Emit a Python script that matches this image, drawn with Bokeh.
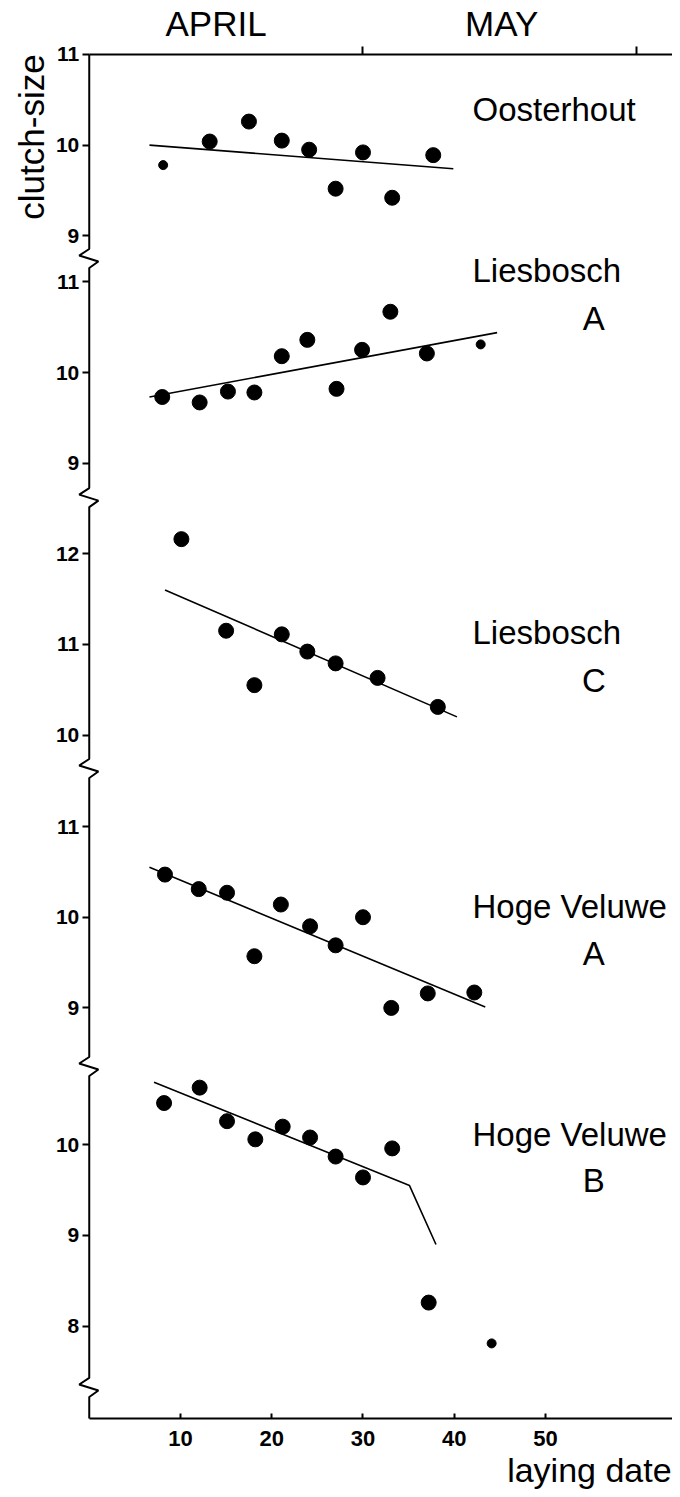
import math
from bokeh.plotting import figure
from bokeh.models import Range1d, FixedTicker, Label, LinearAxis
from bokeh.embed import file_html
from bokeh.resources import INLINE

# ---------------- data (laying date in days from 1 April, clutch-size) ----------------
oost_days = [13.2, 17.5, 21.1, 24.1, 27.0, 30.0, 33.2, 37.7]
oost_size = [10.04, 10.26, 10.05, 9.95, 9.52, 9.92, 9.42, 9.89]
oost_small_days = [8.1]
oost_small_size = [9.78]
oost_fit_days = [6.6, 39.9]
oost_fit_size = [10.00, 9.74]

liesA_days = [8.0, 12.1, 15.2, 18.1, 21.1, 23.9, 27.1, 29.9, 33.0, 37.0]
liesA_size = [9.73, 9.67, 9.79, 9.78, 10.18, 10.36, 9.82, 10.25, 10.67, 10.21]
liesA_small_days = [42.9]
liesA_small_size = [10.31]
liesA_fit_days = [6.6, 44.7]
liesA_fit_size = [9.73, 10.44]

liesC_days = [10.1, 15.0, 18.1, 21.1, 23.9, 27.0, 31.6, 38.2]
liesC_size = [12.16, 11.15, 10.55, 11.11, 10.92, 10.79, 10.63, 10.31]
liesC_small_days = []
liesC_small_size = []
liesC_fit_days = [8.3, 40.3]
liesC_fit_size = [11.60, 10.20]

hvA_days = [8.3, 12.0, 15.1, 18.1, 21.0, 24.2, 27.0, 30.0, 33.1, 37.1, 42.2]
hvA_size = [10.47, 10.31, 10.27, 9.57, 10.14, 9.90, 9.69, 10.00, 9.00, 9.16, 9.17]
hvA_small_days = []
hvA_small_size = []
hvA_fit_days = [6.6, 43.4]
hvA_fit_size = [10.55, 9.01]

hvB_days = [8.2, 12.1, 15.1, 18.2, 21.2, 24.2, 27.0, 30.0, 33.2, 37.2]
hvB_size = [10.46, 10.63, 10.26, 10.06, 10.20, 10.08, 9.87, 9.64, 9.96, 8.26]
hvB_small_days = [44.1]
hvB_small_size = [7.81]
hvB_fit_days = [7.1, 35.1, 38.0]
hvB_fit_size = [10.69, 9.55, 8.90]

panel_names = ["Oosterhout", "Liesbosch", "Liesbosch", "Hoge Veluwe", "Hoge Veluwe"]
panel_letters = ["", "A", "C", "A", "B"]
panel_yticks = [[9, 10, 11], [9, 10, 11], [10, 11, 12], [9, 10, 11], [8, 9, 10]]
x_ticks = [10, 20, 30, 40, 50]
month_ticks = [30, 60]
month_names = ["APRIL", "MAY"]
month_centres = [13.9, 45.2]

# ---------------- layout constants ----------------
FONT = "Liberation Sans"
Y_TOP = 15.04                                       # top axis (11 of the first panel)
offsets = [4.04, 1.533, -2.464, -4.473, -6.982]     # vertical stacking of the panels
breaks = [12.79, 10.154, 7.167, 3.881, 0.342]       # axis breaks (stacked units)
name_mid = [10.39, 11.13, 11.13, 10.12, 10.11]      # label positions (panel units)
letter_mid = [None, 10.60, 10.60, 9.60, 9.61]

panels = [
    (oost_days, oost_size, oost_small_days, oost_small_size, oost_fit_days, oost_fit_size),
    (liesA_days, liesA_size, liesA_small_days, liesA_small_size, liesA_fit_days, liesA_fit_size),
    (liesC_days, liesC_size, liesC_small_days, liesC_small_size, liesC_fit_days, liesC_fit_size),
    (hvA_days, hvA_size, hvA_small_days, hvA_small_size, hvA_fit_days, hvA_fit_size),
    (hvB_days, hvB_size, hvB_small_days, hvB_small_size, hvB_fit_days, hvB_fit_size),
]

X0, X1 = -9.726, 63.92
p = figure(width=672, height=1489, output_backend="svg", toolbar_location=None,
           x_range=Range1d(X0, X1), y_range=Range1d(-0.783, 15.635),
           min_border_left=0, min_border_right=0, min_border_top=0, min_border_bottom=0)
p.outline_line_color = None
p.grid.visible = False

# bottom axis
xa = p.xaxis[0]
xa.fixed_location = 0
xa.ticker = FixedTicker(ticks=x_ticks)
xa.bounds = (0, X1)
xa.axis_line_width = 2
xa.major_tick_in = 5
xa.major_tick_out = 0
xa.major_tick_line_width = 2
xa.minor_tick_line_color = None
xa.major_label_text_font = FONT
xa.major_label_text_font_size = "22px"
xa.major_label_text_font_style = "bold"
xa.major_label_text_color = "black"
xa.major_label_standoff = 13

# left axis (tick labels of each stacked panel)
ticks = []
overrides = {}
for off, tv in zip(offsets, panel_yticks):
    for v in tv:
        pos = round(v + off, 3)
        ticks.append(pos)
        overrides[pos] = str(v)
ya = p.yaxis[0]
ya.fixed_location = 0
ya.ticker = FixedTicker(ticks=ticks)
ya.major_label_overrides = overrides
ya.axis_line_color = None
ya.major_tick_out = 7
ya.major_tick_in = 0
ya.major_tick_line_width = 2
ya.minor_tick_line_color = None
ya.major_label_text_font = FONT
ya.major_label_text_font_size = "21px"
ya.major_label_text_font_style = "bold"
ya.major_label_text_color = "black"
ya.major_label_standoff = 3

# top axis with month boundaries
ta = LinearAxis(fixed_location=Y_TOP, ticker=FixedTicker(ticks=month_ticks), bounds=(0, X1),
                major_tick_out=8, major_tick_in=0, major_tick_line_width=2,
                minor_tick_line_color=None, axis_line_width=2,
                major_label_text_color=None, major_label_text_font_size="1px")
p.add_layout(ta, "above")

# vertical axis line with break marks
sx, sy = [0], [Y_TOP]
for b in breaks:
    sx += [0, -1.1, 1.0, 0]
    sy += [b + 0.105, b + 0.033, b - 0.033, b - 0.105]
sx.append(0)
sy.append(0)
p.line(sx, sy, line_width=2, color="black")

# panels
for i, (d, s, sd, ss, fd, fs) in enumerate(panels):
    off = offsets[i]
    p.line(fd, [v + off for v in fs], line_width=1.6, color="black")
    p.scatter(d, [v + off for v in s], size=15, color="black")
    if sd:
        p.scatter(sd, [v + off for v in ss], size=9, color="black")
    p.add_layout(Label(x=42.0, y=name_mid[i] + off, text=panel_names[i],
                       text_font=FONT, text_font_size="33px", text_color="black",
                       text_align="left", text_baseline="middle"))
    if panel_letters[i]:
        p.add_layout(Label(x=55.3, y=letter_mid[i] + off, text=panel_letters[i],
                           text_font=FONT, text_font_size="33px", text_color="black",
                           text_align="center", text_baseline="middle"))

for name, c in zip(month_names, month_centres):
    p.add_layout(Label(x=c, y=15.379, text=name, text_font=FONT, text_font_size="35px",
                       text_color="black", text_align="center", text_baseline="middle"))

p.add_layout(Label(x=-6.33, y=14.13, text="clutch-size", angle=math.pi / 2,
                   text_font=FONT, text_font_size="35px", text_color="black",
                   text_align="center", text_baseline="middle"))
p.add_layout(Label(x=45.8, y=-0.565, text="laying date", text_font=FONT,
                   text_font_size="34px", text_color="black",
                   text_align="left", text_baseline="middle"))

open("out.html", "w").write(file_html(p, INLINE))
